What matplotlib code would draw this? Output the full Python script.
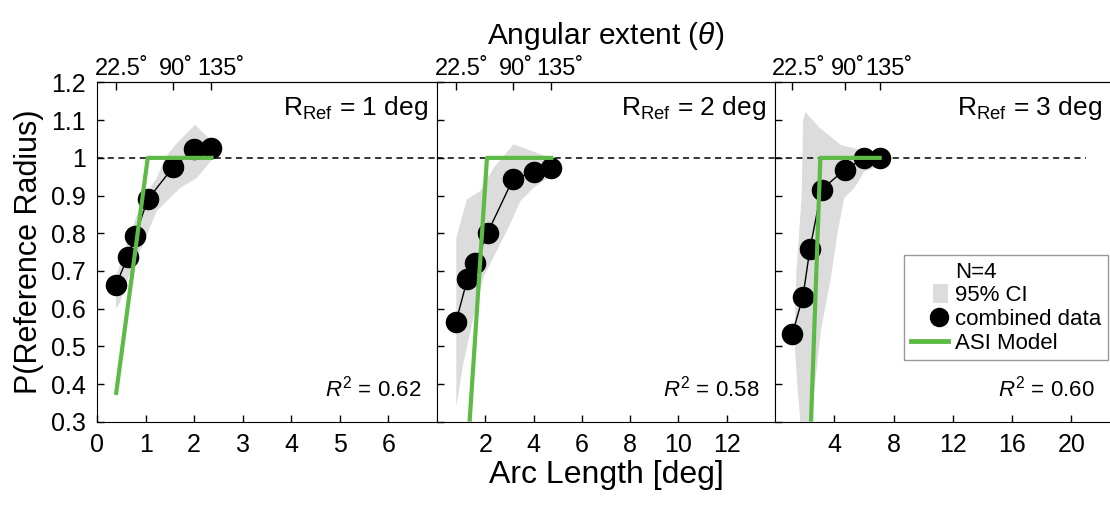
import numpy as np
import matplotlib
matplotlib.use("Agg")
import matplotlib.pyplot as plt
from matplotlib.patches import Patch, Rectangle
from matplotlib.lines import Line2D
from matplotlib.legend_handler import HandlerBase
from matplotlib.transforms import ScaledTranslation

plt.rcParams['font.family'] = ['Liberation Sans', 'DejaVu Sans']
plt.rcParams['mathtext.fontset'] = 'custom'
plt.rcParams['mathtext.rm'] = 'Liberation Sans'
plt.rcParams['mathtext.it'] = 'Liberation Sans:italic'

# reference radii (deg) and angular extents tested (deg)
radii = [1, 2, 3]
angles = [22.5, 36, 45, 60, 90, 115, 135]
top_ticks = [22.5, 90, 135]
top_labels = ['22.5˚', '90˚', '135˚']

# proportion "reference radius" per panel
p_r1 = [0.663, 0.736, 0.793, 0.890, 0.976, 1.023, 1.026]
p_r2 = [0.565, 0.678, 0.720, 0.801, 0.943, 0.963, 0.972]
p_r3 = [0.534, 0.632, 0.758, 0.916, 0.969, 0.999, 0.999]

# 95% CI outlines (arc length, proportion)
ci_x_r1 = [0.39, 0.39, 0.61, 0.85, 1.09, 1.23, 1.40, 1.61, 2.02, 2.40,
           2.40, 2.05, 1.71, 1.23, 0.95, 0.65, 0.47]
ci_y_r1 = [0.60, 0.684, 0.772, 0.859, 0.920, 0.946, 1.0, 1.034, 1.088, 1.04,
           1.0, 0.946, 0.920, 0.859, 0.772, 0.684, 0.615]
ci_x_r2 = [0.80, 0.80, 1.24, 1.79, 2.34, 3.17, 4.69, 4.80,
           4.69, 4.00, 3.45, 3.03, 2.41, 1.93, 1.52, 1.10]
ci_y_r2 = [0.34, 0.789, 0.890, 0.912, 0.973, 1.036, 1.0, 0.98,
           0.951, 0.920, 0.885, 0.824, 0.745, 0.684, 0.579, 0.457]
ci_x_r3 = [1.71, 1.50, 1.30, 1.45, 1.80, 1.90, 2.05, 3.00, 4.46, 5.81, 7.20,
           7.20, 6.03, 5.36, 4.68, 4.24, 3.78, 3.11, 2.66, 2.32]
ci_y_r3 = [0.30, 0.40, 0.52, 0.70, 0.90, 1.10, 1.122, 1.08, 1.034, 1.021, 1.003,
           0.98, 0.964, 0.920, 0.894, 0.806, 0.684, 0.544, 0.387, 0.30]

# ASI model fit (arc length, proportion)
asi_x_r1 = [0.39, 1.045, 2.40]
asi_y_r1 = [0.371, 1.0, 1.0]
asi_x_r2 = [1.35, 2.07, 4.82]
asi_y_r2 = [0.30, 1.0, 1.0]
asi_x_r3 = [2.43, 3.06, 7.20]
asi_y_r3 = [0.30, 1.0, 1.0]

r_squared = ['0.62', '0.58', '0.60']
x_ticks = [[0, 1, 2, 3, 4, 5, 6], [2, 4, 6, 8, 10, 12], [4, 8, 12, 16, 20]]
x_lims = [7, 14, 22.6]

props = [p_r1, p_r2, p_r3]
cis = [(ci_x_r1, ci_y_r1), (ci_x_r2, ci_y_r2), (ci_x_r3, ci_y_r3)]
asis = [(asi_x_r1, asi_y_r1), (asi_x_r2, asi_y_r2), (asi_x_r3, asi_y_r3)]

green = '#5dba46'
gray = '#dcdcdc'


# legend handles sit at the right end of the handle box, next to the text
class RightDot(HandlerBase):
    def create_artists(self, legend, orig_handle, xdescent, ydescent,
                       width, height, fontsize, trans):
        dot = Line2D([width - xdescent - 6.5], [height / 2 - ydescent],
                     marker='o', ms=13, color='black', ls='none', transform=trans)
        return [dot]


class RightBox(HandlerBase):
    def create_artists(self, legend, orig_handle, xdescent, ydescent,
                       width, height, fontsize, trans):
        h = height * 1.25
        box = Rectangle((width - xdescent - 11, height / 2 - ydescent - h / 2), 11, h,
                        facecolor=gray, edgecolor='none', transform=trans)
        return [box]


fig = plt.figure(figsize=(11.1, 5.08), dpi=100)
bottom, top = 1 - 421.7 / 508, 1 - 82.5 / 508
edges = [97 / 1110, 437 / 1110, 775 / 1110, 1.0]
label_shift = [6, 3, 9]  # px, top labels lean right like the original

for i, R in enumerate(radii):
    ax = fig.add_axes([edges[i], bottom, edges[i + 1] - edges[i], top - bottom])
    arc = [R * np.deg2rad(a) for a in angles]

    ax.fill(cis[i][0], cis[i][1], color=gray, lw=0, zorder=1)
    ax.plot([0, 7 * R], [1, 1], color='black', ls=(0, (4, 3)), lw=1.1, zorder=2)
    ax.plot(arc, props[i], color='black', lw=1, marker='o', ms=14.5,
            mfc='black', mec='black', zorder=3)
    ax.plot(asis[i][0], asis[i][1], color=green, lw=3, zorder=4,
            solid_capstyle='butt', clip_on=False)

    ax.set_xlim(0, x_lims[i])
    ax.set_ylim(0.3, 1.2)
    ax.set_xticks(x_ticks[i])
    ax.set_yticks(np.round(np.arange(0.3, 1.21, 0.1), 1))
    ax.tick_params(direction='in', length=5, width=1, labelsize=18, pad=8)
    if i == 0:
        ax.set_yticklabels(['0.3', '0.4', '0.5', '0.6', '0.7', '0.8', '0.9', '1', '1.1', '1.2'])
        ax.set_ylabel('P(Reference Radius)', fontsize=22, labelpad=5)
    else:
        ax.set_yticklabels([])
    if i == 1:
        ax.set_xlabel('Arc Length [deg]', fontsize=23, labelpad=2)
    if i == 2:
        ax.spines['right'].set_visible(False)

    sec = ax.secondary_xaxis('top')
    sec.set_xticks([R * np.deg2rad(a) for a in top_ticks], labels=top_labels)
    sec.tick_params(direction='in', length=6, width=1, labelsize=17, pad=2)
    for lab, dx in zip(sec.get_xticklabels(), label_shift):
        lab.set_transform(lab.get_transform() + ScaledTranslation(dx / 100, 0, fig.dpi_scale_trans))
    if i == 1:
        sec.set_xlabel('Angular extent ($\\it{\\theta}$)', fontsize=21.5, labelpad=10)

    ax.text(0.975, 0.965, 'R$_{\\mathrm{Ref}}$ = %d deg' % R, transform=ax.transAxes,
            ha='right', va='top', fontsize=19)
    ax.text(0.955, 0.06, '$R^2$ = ' + r_squared[i], transform=ax.transAxes,
            ha='right', va='bottom', fontsize=16)

    if i == 2:
        handles = [Line2D([], [], color='none'),
                   Patch(facecolor=gray, edgecolor='none'),
                   Line2D([], [], color='black', marker='o', ls='none'),
                   Line2D([], [], color=green, lw=3.5)]
        hmap = {handles[1]: RightBox(), handles[2]: RightDot()}
        leg = ax.legend(handles, ['N=4', '95% CI', 'combined data', 'ASI Model'],
                        handler_map=hmap,
                        loc='upper left', bbox_to_anchor=(0.385, 0.491),
                        borderaxespad=0, fontsize=16, fancybox=False,
                        edgecolor='#808080', handlelength=1.7, handletextpad=0.3,
                        labelspacing=0.12, borderpad=0.3)
        leg.get_frame().set_linewidth(1)

fig.savefig('out.png', dpi=100)
